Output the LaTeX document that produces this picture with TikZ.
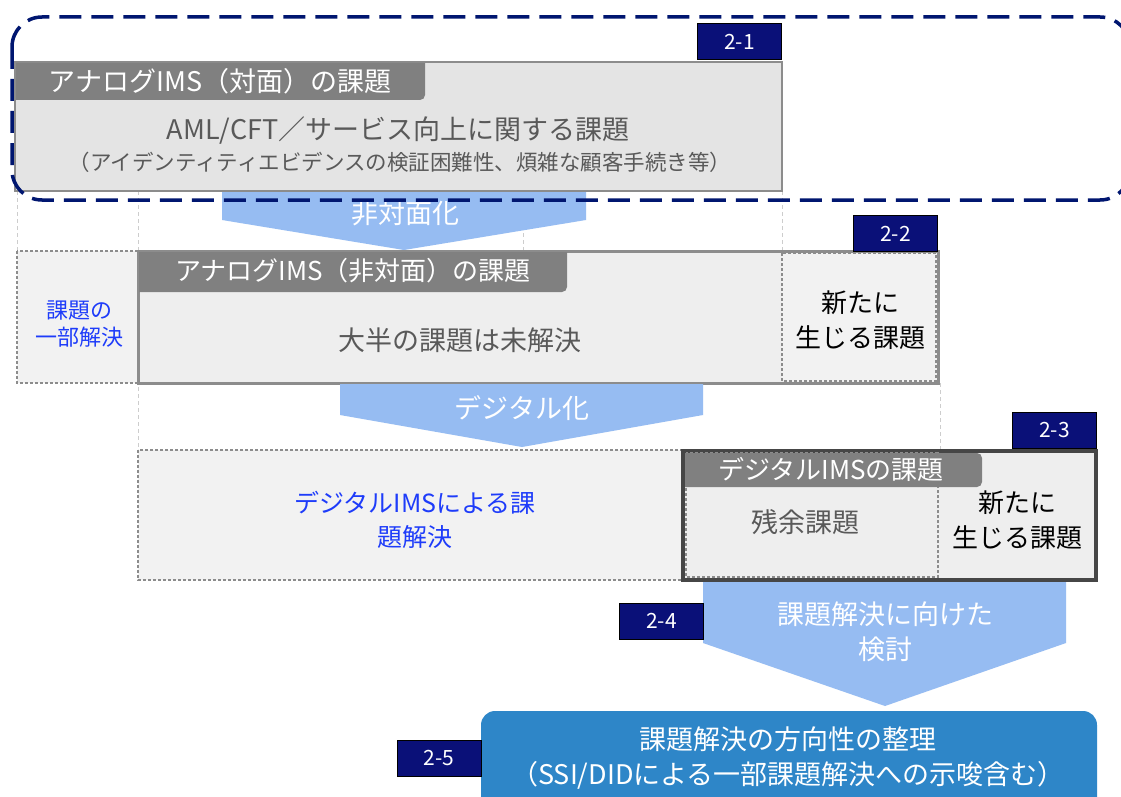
\documentclass[tikz,border=0pt]{standalone}
\usepackage{fontspec}
\setmainfont{Noto Sans CJK JP}
\definecolor{navy}{RGB}{10,16,120}
\definecolor{dnavy}{RGB}{0,22,112}
\definecolor{tabgray}{RGB}{128,128,128}
\definecolor{boxA}{RGB}{228,228,228}
\definecolor{boxB}{RGB}{238,238,238}
\definecolor{boxC}{RGB}{242,242,242}
\definecolor{bordergray}{RGB}{140,140,140}
\definecolor{darkborder}{RGB}{70,70,70}
\definecolor{arrowblue}{RGB}{150,188,242}
\definecolor{finalblue}{RGB}{46,134,200}
\definecolor{bluetext}{RGB}{30,60,250}
\definecolor{graytext}{RGB}{89,89,89}
\definecolor{guide}{RGB}{205,205,205}
\newcommand\myfs[2]{\fontsize{#1}{#2}\selectfont}
\begin{document}
\begin{tikzpicture}[x=1pt,y=-1pt,
  tagbox/.style={fill=navy,draw=black,line width=1,text=white,font=\myfs{21}{25},inner sep=0,minimum width=84,minimum height=36},
  guideline/.style={draw=guide,line width=0.8,dash pattern=on 4 off 3},
  dashbox/.style={draw=bordergray,line width=1.2,dash pattern=on 3 off 2},
  tabtext/.style={text=white,font=\myfs{26}{30},inner sep=0},
  maintext/.style={text=graytext,font=\myfs{27}{34},inner sep=0,align=center},
  blacktext/.style={text=black,font=\myfs{26}{35},inner sep=0,align=center},
  bluelabel/.style={text=bluetext,inner sep=0,align=center},
  arrowtext/.style={text=white,font=\myfs{27}{35},inner sep=0,align=center},
  bluearrow/.style={fill=arrowblue}]
\useasboundingbox (0,0) rectangle (1121,797);
\clip (0,0) rectangle (1121,797);
\fill[white] (0,0) rectangle (1121,797);

% guide lines
\draw[guideline] (17,191) -- (17,251);
\draw[guideline] (138,191) -- (138,450);
\draw[guideline] (523,191) -- (523,251);
\draw[guideline] (782,191) -- (782,253);
\draw[guideline] (940,383) -- (940,450);

% arrow 1
\fill[bluearrow] (222,191) -- (586,191) -- (586,220) -- (404,250) -- (222,220) -- cycle;
\node[arrowtext] (ar1) at (405,213) {非対面化};

% box 1
\draw[fill=boxA,draw=bordergray,line width=2.5] (15,62) rectangle (782,191);
\fill[tabgray] (16,63) -- (425,63) -- (425,95) arc[start angle=0,end angle=90,radius=5] -- (16,100) -- cycle;
\node[tabtext,font=\myfs{27}{30}] (tab1) at (220,81) {アナログIMS（対面）の課題};
\node[maintext] (m1) at (398,130) {AML/CFT／サービス向上に関する課題};
\node[text=graytext,font=\myfs{21.5}{24},inner sep=0] (m1b) at (400,162) {（アイデンティティエビデンスの検証困難性、煩雑な顧客手続き等）};
\node[tagbox] (t21) at (739.5,41.5) {2-1};

% dashed outline
\draw[dnavy,line width=3.5,dash pattern=on 22 off 10,rounded corners=30] (12,17) rectangle (1130,200);

% row 2
\draw[fill=boxC,dashbox] (17,251) rectangle (138,383);
\node[bluelabel,font=\myfs{22}{27}] (p1) at (79,324) {課題の\\一部解決};
\draw[fill=boxB,draw=bordergray,line width=3] (138,251) rectangle (938,383);
\draw[fill=boxC,dashbox] (782,253) rectangle (936,381);
\fill[tabgray] (139,252) -- (567,252) -- (567,287) arc[start angle=0,end angle=90,radius=5] -- (139,292) -- cycle;
\node[tabtext] (tab2) at (353,271) {アナログIMS（非対面）の課題};
\node[maintext] (m2) at (460,340) {大半の課題は未解決};
\node[blacktext] (n2) at (860,320) {新たに\\生じる課題};
\node[tagbox] (t22) at (895.5,233.5) {2-2};

% arrow 2
\fill[bluearrow] (340,384) -- (703,384) -- (703,415) -- (522,447) -- (340,415) -- cycle;
\node[arrowtext] (ar2) at (522,408) {デジタル化};

% row 3
\draw[fill=boxC,dashbox] (138,450) rectangle (683,580);
\node[bluelabel,font=\myfs{25}{34}] (p3) at (415,520) {デジタルIMSによる課\\題解決};
\draw[fill=boxB,draw=darkborder,line width=3.5] (683,451) rectangle (1096,580);
\draw[dashbox] (686,453) rectangle (938,577);
\fill[tabgray] (685,453) -- (977,453) arc[start angle=-90,end angle=0,radius=5] -- (982,482) arc[start angle=0,end angle=90,radius=5] -- (685,487) -- cycle;
\node[tabtext] (tab3) at (831,469) {デジタルIMSの課題};
\node[maintext] (m3) at (805,522) {残余課題};
\node[blacktext] (n3) at (1017,520) {新たに\\生じる課題};
\node[tagbox] (t23) at (1054.5,430.5) {2-3};

% arrow 3
\fill[bluearrow] (703,582) -- (1066,582) -- (1066,643) -- (885,706) -- (703,643) -- cycle;
\node[arrowtext] (ar3) at (885,632) {課題解決に向けた\\検討};
\node[tagbox] (t24) at (661.5,621) {2-4};

% final box
\fill[finalblue,rounded corners=14] (481,711) rectangle (1097,830);
\node[text=white,font=\myfs{27}{35},inner sep=0,align=center] (fin) at (788,758) {課題解決の方向性の整理\\（SSI/DIDによる一部課題解決への示唆含む）};
\node[tagbox] (t25) at (439,758.5) {2-5};
\end{tikzpicture}
\end{document}
